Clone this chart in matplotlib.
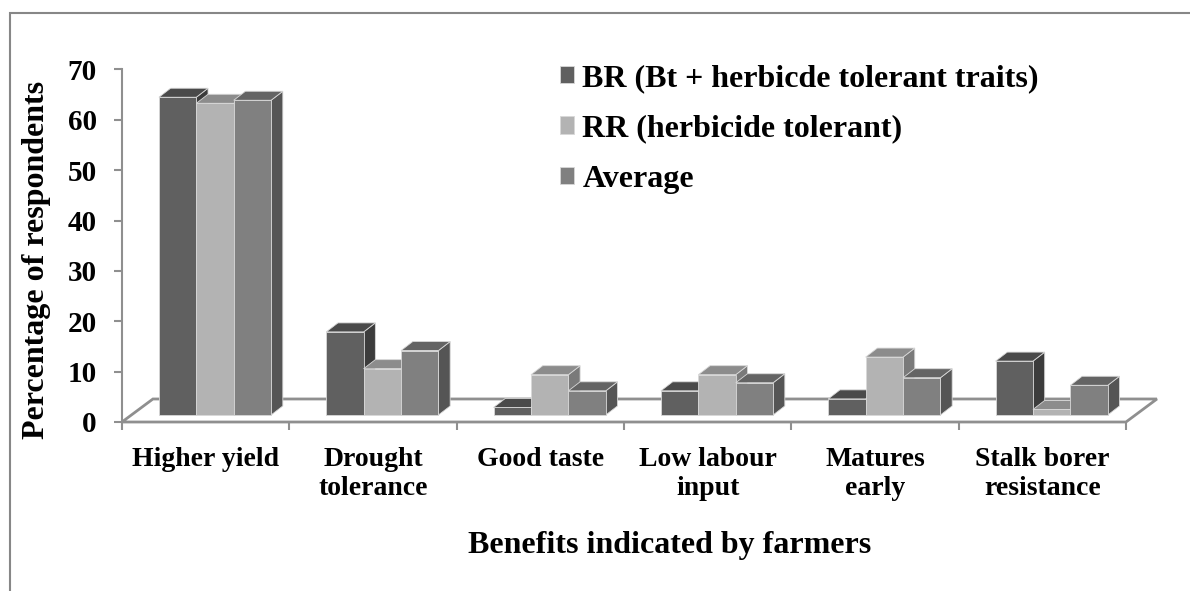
import numpy as np
import matplotlib
matplotlib.use("Agg")
import matplotlib.pyplot as plt
from matplotlib.patches import Polygon, Rectangle

plt.rcParams['font.family'] = ['Liberation Serif', 'DejaVu Serif']
plt.rcParams['font.weight'] = 'bold'

categories = ["Higher yield", "Drought\ntolerance", "Good taste",
              "Low labour\ninput", "Matures\nearly", "Stalk borer\nresistance"]
series_names = ["BR (Bt + herbicde tolerant traits)", "RR (herbicide tolerant)", "Average"]
br = [63.1, 16.5, 1.5, 4.8, 3.2, 10.7]
rr = [61.9, 9.2, 8.0, 8.0, 11.5, 1.1]
avg = [62.5, 12.8, 4.8, 6.4, 7.4, 5.9]
yticks = [0, 10, 20, 30, 40, 50, 60, 70]

front_colors = ['#606060', '#b3b3b3', '#808080']
top_colors = ['#4a4a4a', '#8c8c8c', '#646464']
side_colors = ['#3c3c3c', '#7a7a7a', '#555555']
grey = '#8f8f8f'

# oblique "3d" offsets, in data units
floor_dx, floor_dy = 0.185, 4.57
plane_dx, plane_dy = 0.056, 1.39
depth_dx, depth_dy = 0.070, 1.79
w = 0.2235

fig = plt.figure(figsize=(11.9, 5.91), dpi=100)
ax = fig.add_axes([0.1025, 0.28596, 0.8437, 0.59645])
ax.set_xlim(-0.5, 5.5)
ax.set_ylim(0, 70)

# floor
n = len(categories)
floor = Polygon([(-0.5, 0), (n - 0.5, 0), (n - 0.5 + floor_dx, floor_dy),
                 (-0.5 + floor_dx, floor_dy)], closed=True, facecolor='white',
                edgecolor=grey, lw=2, clip_on=False, zorder=1)
ax.add_patch(floor)

x = np.arange(n)
handles = []
for j, vals in enumerate([br, rr, avg]):
    xs = x + (j - 1) * w + plane_dx
    bars = ax.bar(xs, vals, w, bottom=plane_dy, color=front_colors[j],
                  edgecolor='#d8d8d8', linewidth=0.6, label=series_names[j])
    handles.append(bars)
    for i, (b, v) in enumerate(zip(bars, vals)):
        k = i * 3 + j
        b.set_zorder(2 + k * 0.01 + 0.005)
        x0 = xs[i] - w / 2
        y1 = plane_dy + v
        top = Polygon([(x0, y1), (x0 + w, y1), (x0 + w + depth_dx, y1 + depth_dy),
                       (x0 + depth_dx, y1 + depth_dy)], closed=True,
                      facecolor=top_colors[j], edgecolor='#d8d8d8', lw=0.6,
                      zorder=2 + k * 0.01)
        side = Polygon([(x0 + w, plane_dy), (x0 + w + depth_dx, plane_dy + depth_dy),
                        (x0 + w + depth_dx, y1 + depth_dy), (x0 + w, y1)], closed=True,
                       facecolor=side_colors[j], edgecolor='#d8d8d8', lw=0.6,
                       zorder=2 + k * 0.01)
        ax.add_patch(side)
        ax.add_patch(top)

for s in ['top', 'right', 'bottom']:
    ax.spines[s].set_visible(False)
ax.spines['left'].set_color(grey)
ax.spines['left'].set_linewidth(1.5)
ax.set_yticks(yticks)
ax.tick_params(axis='y', length=6, width=1.5, color=grey, pad=12, labelsize=21)

ax.set_xticks(np.arange(-0.5, n, 1.0))
ax.set_xticklabels([])
ax.tick_params(axis='x', which='major', length=6, width=1.5, color=grey)
ax.set_xticks(x, minor=True)
ax.set_xticklabels(categories, minor=True, fontsize=20)
ax.tick_params(axis='x', which='minor', length=0, pad=18)

fig.text(670 / 1190, (591 - 553) / 591, "Benefits indicated by farmers",
         fontsize=23, ha='center', va='baseline')
fig.text(37 / 1190, (591 - 260) / 591, "Percentage of respondents",
         fontsize=23, rotation=90, ha='center', va='center')

fig.legend(handles=handles, labels=series_names, loc='upper left',
           bbox_to_anchor=(560 / 1190, (591 - 64) / 591), frameon=False,
           fontsize=23, handlelength=0.45, handleheight=0.45,
           handletextpad=0.25, labelspacing=0.67, borderpad=0, borderaxespad=0)

fig.patches.append(Rectangle((10 / 1190, -0.1), 1.2, (591 - 13) / 591 + 0.1,
                             transform=fig.transFigure, fill=False,
                             edgecolor='#878787', lw=1.5))

fig.savefig("out.png", dpi=100)
